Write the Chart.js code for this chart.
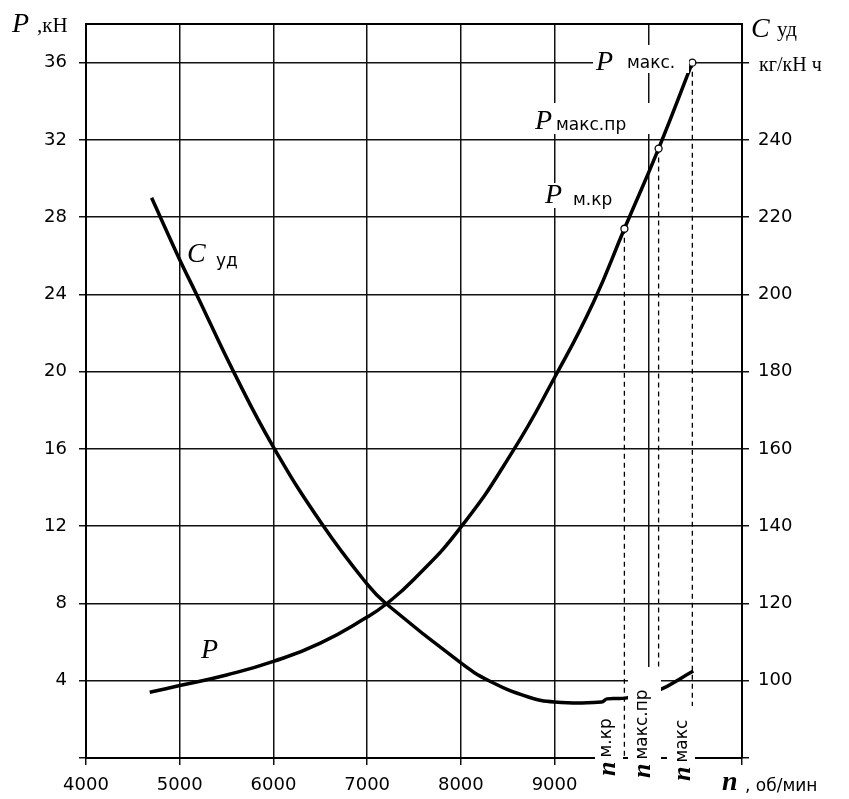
<!DOCTYPE html>
<html>
<head>
<meta charset="utf-8">
<script src="https://cdn.jsdelivr.net/npm/chart.js@4.4.0/dist/chart.umd.min.js"></script>
<style>
body { margin: 0; background: #fff; }
canvas { display: block; }
</style>
</head>
<body>
<canvas id="chart" width="849" height="799"></canvas>
<script>
// Тяга P, кН по частоте вращения n, об/мин
const nP = [4680, 5000, 5500, 6000, 6500, 7000, 7200, 7500, 8000, 8550, 9000, 9415, 9745, 10110, 10470];
const pValues = [3.4, 3.75, 4.3, 5.0, 5.95, 7.3, 7.96, 9.25, 11.95, 15.85, 19.7, 23.6, 27.4, 31.55, 36.0];

// Удельный расход C уд, кг/кН ч
const nC = [4700, 5000, 5180, 5585, 6000, 6520, 7000, 7200, 8000, 8300, 8720, 9000, 9500, 9560, 9755, 10074, 10480];
const cValues = [225, 209, 200, 179.5, 160.5, 140.5, 125, 120, 104.6, 100, 95.8, 94.5, 94.5, 95.3, 95.5, 97.1, 102.5];

// характерные режимы
const markN = [9745, 10110, 10470];
const markP = [27.4, 31.55, 36.0];

// шкалы
const nTicks = [4000, 5000, 6000, 7000, 8000, 9000, 10000, 11000];
const nLabels = ['4000', '5000', '6000', '7000', '8000', '9000', '', ''];
const pTicks = [0, 4, 8, 12, 16, 20, 24, 28, 32, 36];
const pLabels = ['', '4', '8', '12', '16', '20', '24', '28', '32', '36'];
const cTicks = [80, 100, 120, 140, 160, 180, 200, 220, 240, 260];
const cLabels = ['', '100', '120', '140', '160', '180', '200', '220', '240', ''];

const pts = (xs, ys) => xs.map((x, i) => ({ x: x, y: ys[i] }));

const datasets = [
	{ // точки режимов
		data: pts(markN, markP), yAxisID: 'y', showLine: false,
		pointRadius: 3.5, pointBackgroundColor: '#fff', pointBorderColor: '#000', pointBorderWidth: 1.3
	},
	{
		data: pts(nP, pValues), yAxisID: 'y', borderColor: '#000', borderWidth: 3.5,
		pointRadius: 0, tension: 0.5
	},
	{
		data: pts(nC, cValues), yAxisID: 'yc', borderColor: '#000', borderWidth: 3.5,
		pointRadius: 0, tension: 0.45
	}
];
// пунктирные вертикали от точек к оси n
markN.forEach((n, i) => {
	datasets.push({
		data: [{ x: n, y: markP[i] }, { x: n, y: 0 }], yAxisID: 'y',
		borderColor: '#000', borderWidth: 1.3, borderDash: [5, 4], pointRadius: 0
	});
});

const gridColor = '#111';

const labelsPlugin = {
	id: 'labels',
	beforeDatasetsDraw(chart) {
		const ctx = chart.ctx, a = chart.chartArea;
		ctx.save();
		ctx.strokeStyle = '#000';
		ctx.lineWidth = 2;
		ctx.beginPath();
		ctx.moveTo(a.left - 1, a.top);
		ctx.lineTo(a.right + 1, a.top);
		ctx.stroke();
		ctx.restore();
	},
	afterDatasetsDraw(chart) {
		const ctx = chart.ctx;
		ctx.save();
		ctx.fillStyle = '#000';
		ctx.textBaseline = 'alphabetic';
		const it = s => 'italic ' + s + 'px "Liberation Serif"';
		const bi = s => 'bold italic ' + s + 'px "Liberation Serif"';
		const serif = s => s + 'px "Liberation Serif"';
		const sans = s => s + 'px "DejaVu Sans"';
		const put = (t, x, y, f) => { ctx.font = f; ctx.fillText(t, x, y); return ctx.measureText(t).width; };
		const box = (x, y, w, h) => { ctx.fillStyle = '#fff'; ctx.fillRect(x, y, w, h); ctx.fillStyle = '#000'; };

		// подписи осей
		put('P', 12, 32, it(28));
		put(',кН', 37, 32, serif(21));
		put('C', 751, 37, it(28));
		put('уд', 777, 36, serif(21));
		put('кг/кН ч', 759, 71, serif(20));
		put('n', 722, 790, bi(28));
		put(', об/мин', 745, 791, sans(17));

		// подписи точек
		box(593, 45, 96, 28);
		put('P', 596, 70, it(28));
		put('макс.', 627, 68, sans(17));
		box(532, 103, 120, 31);
		put('P', 535, 129, it(28));
		put('макс.пр', 556, 130, sans(17));
		box(541, 183, 83, 25);
		put('P', 545, 203, it(28));
		put('м.кр', 573, 205, sans(17));

		// подписи кривых
		put('C', 187, 262, it(28));
		put('уд', 216, 266, sans(17));
		put('P', 201, 658, it(28));

		// повёрнутые подписи n
		box(595, 710, 28, 89);
		box(628, 667, 33, 132);
		box(667, 706, 28, 93);
		const rot = (x, y, sub, sx) => {
			ctx.save();
			ctx.translate(x, y);
			ctx.rotate(-Math.PI / 2);
			const w = put('n', 0, 0, bi(26));
			put(sub, w + 4, sx, sans(17));
			ctx.restore();
		};
		rot(615, 776, 'м.кр', -4);
		rot(650, 778, 'макс.пр', -3);
		rot(690, 781, 'макс', -3);
		ctx.restore();
	}
};

new Chart(document.getElementById('chart'), {
	type: 'line',
	data: { datasets: datasets },
	plugins: [labelsPlugin],
	options: {
		responsive: false,
		animation: false,
		layout: { padding: { top: 24, left: 0, right: 0, bottom: 0 } },
		plugins: { legend: { display: false }, tooltip: { enabled: false } },
		scales: {
			x: {
				type: 'linear', min: 4000, max: 11000,
				afterBuildTicks: s => { s.ticks = nTicks.map(v => ({ value: v })); },
				afterFit: s => { s.height = 41; },
				grid: { color: gridColor, lineWidth: 1.5, tickLength: 7 },
				border: { display: true, color: '#000', width: 2 },
				ticks: {
					autoSkip: false, maxRotation: 0, padding: 10, color: '#000',
					font: { family: 'DejaVu Sans', size: 18 },
					callback: (v, i) => nLabels[i]
				}
			},
			y: {
				type: 'linear', position: 'left', min: 0, max: 38,
				afterBuildTicks: s => { s.ticks = pTicks.map(v => ({ value: v })); },
				afterFit: s => { s.width = 86; },
				grid: { color: gridColor, lineWidth: 1.5, tickLength: 7 },
				border: { display: true, color: '#000', width: 2 },
				ticks: {
					padding: 12, color: '#000',
					font: { family: 'DejaVu Sans', size: 18 },
					callback: (v, i) => pLabels[i]
				}
			},
			yc: {
				type: 'linear', position: 'right', min: 80, max: 270,
				afterBuildTicks: s => { s.ticks = cTicks.map(v => ({ value: v })); },
				afterFit: s => { s.width = 107; },
				grid: { drawOnChartArea: false, color: gridColor, lineWidth: 1.5, tickLength: 7 },
				border: { display: true, color: '#000', width: 2 },
				ticks: {
					padding: 9, color: '#000',
					font: { family: 'DejaVu Sans', size: 18 },
					callback: (v, i) => cLabels[i]
				}
			}
		}
	}
});
</script>
</body>
</html>
